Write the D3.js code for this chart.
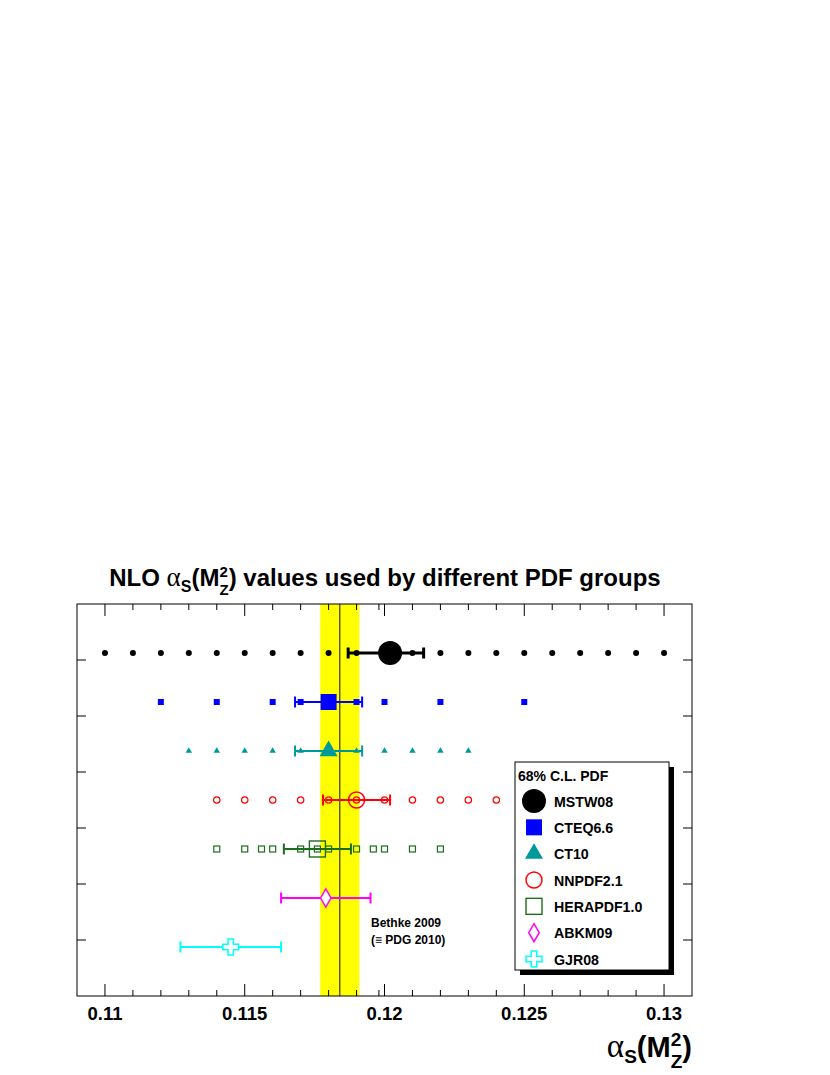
<!DOCTYPE html>
<html>
<head>
<meta charset="utf-8">
<script src="https://cdn.jsdelivr.net/npm/d3@7"></script>
<style>
  body { margin: 0; background: #fff; }
  text { font-family: "Liberation Sans", Arial, sans-serif; font-weight: bold; }
  .greek { font-family: "Liberation Serif", "DejaVu Serif", serif; font-weight: normal; }
</style>
</head>
<body>
<div id="chart"></div>
<script>

// ---------------- data ----------------
var groups   = ["MSTW08", "CTEQ6.6", "CT10", "NNPDF2.1", "HERAPDF1.0", "ABKM09", "GJR08"];
var central  = [0.1202, 0.1180, 0.1180, 0.1190, 0.1176, 0.1179, 0.1145];
var errLow   = [0.0015, 0.0012, 0.0012, 0.0012, 0.0012, 0.0016, 0.0018];
var errHigh  = [0.0012, 0.0012, 0.0012, 0.0012, 0.0012, 0.0016, 0.0018];
var rowPos   = [6.125, 5.25, 4.375, 3.5, 2.625, 1.75, 0.875];
var colors   = ["#000000", "#0000ff", "#009999", "#ff0000", "#1b6e1b", "#ff00ff", "#00ffff"];
var markers  = ["circle", "square", "triangle", "ocircle", "osquare", "diamond", "cross"];

// alpha_s values of the available PDF sets for each group
var scanMSTW  = [0.110, 0.111, 0.112, 0.113, 0.114, 0.115, 0.116, 0.117, 0.118, 0.119, 0.120,
                 0.121, 0.122, 0.123, 0.124, 0.125, 0.126, 0.127, 0.128, 0.129, 0.130];
var scanCTEQ  = [0.112, 0.114, 0.116, 0.117, 0.118, 0.119, 0.120, 0.122, 0.125];
var scanCT10  = [0.113, 0.114, 0.115, 0.116, 0.117, 0.118, 0.119, 0.120, 0.121, 0.122, 0.123];
var scanNNPDF = [0.114, 0.115, 0.116, 0.117, 0.118, 0.119, 0.120, 0.121, 0.122, 0.123, 0.124];
var scanHERA  = [0.114, 0.115, 0.1156, 0.116, 0.117, 0.1176, 0.118, 0.119, 0.1196, 0.120, 0.121, 0.122];
var scans = [scanMSTW, scanCTEQ, scanCT10, scanNNPDF, scanHERA, [], []];

// world average band (Bethke 2009)
var bethke = 0.1184, bethkeErr = 0.0007;

var xTickMajor = [0.11, 0.115, 0.12, 0.125, 0.13];
var xTickLabels = ["0.11", "0.115", "0.12", "0.125", "0.13"];
var yTicks = [1, 2, 3, 4, 5, 6];

// ---------------- layout ----------------
var width = 830, height = 1075;
var frame = { left: 77, right: 692, top: 604, bottom: 996 };

var svg = d3.select("#chart").append("svg")
  .attr("width", width)
  .attr("height", height);

var x = d3.scaleLinear().domain([0.109, 0.131]).range([frame.left, frame.right]);
var y = d3.scaleLinear().domain([0, 7]).range([frame.bottom, frame.top]);

// band + central line
svg.append("rect")
  .attr("x", x(bethke - bethkeErr))
  .attr("width", x(bethke + bethkeErr) - x(bethke - bethkeErr))
  .attr("y", frame.top)
  .attr("height", frame.bottom - frame.top)
  .attr("fill", "#ffff00");

svg.append("line")
  .attr("x1", x(bethke)).attr("x2", x(bethke))
  .attr("y1", frame.top).attr("y2", frame.bottom)
  .attr("stroke", "#333").attr("stroke-width", 1.2);

// ticks (ROOT style, on all four sides)
var minorTicks = d3.range(0.109, 0.1315, 0.001).map(function(d){ return +d.toFixed(4); });
minorTicks.push(0.1198);

function isMajor(v){
  return xTickMajor.some(function(m){ return Math.abs(m - v) < 1e-7; });
}

var tickG = svg.append("g").attr("stroke", "#000").attr("stroke-width", 1);
minorTicks.forEach(function(v){
  if (x(v) <= frame.left + 1 || x(v) >= frame.right - 1) return;
  var len = isMajor(v) ? 12 : 6;
  tickG.append("line").attr("x1", x(v)).attr("x2", x(v))
    .attr("y1", frame.bottom).attr("y2", frame.bottom - len);
  tickG.append("line").attr("x1", x(v)).attr("x2", x(v))
    .attr("y1", frame.top).attr("y2", frame.top + len);
});
yTicks.forEach(function(v){
  tickG.append("line").attr("x1", frame.left).attr("x2", frame.left + 9)
    .attr("y1", y(v)).attr("y2", y(v));
  tickG.append("line").attr("x1", frame.right).attr("x2", frame.right - 9)
    .attr("y1", y(v)).attr("y2", y(v));
});

// tick labels
svg.append("g").selectAll("text")
  .data(xTickMajor)
  .enter().append("text")
  .attr("x", function(d){ return x(d); })
  .attr("y", 1020)
  .attr("text-anchor", "middle")
  .attr("font-size", 18.5)
  .text(function(d, i){ return xTickLabels[i]; });

// frame
svg.append("rect")
  .attr("x", frame.left).attr("y", frame.top)
  .attr("width", frame.right - frame.left)
  .attr("height", frame.bottom - frame.top)
  .attr("fill", "none").attr("stroke", "#000").attr("stroke-width", 1);

// ---------------- markers ----------------
function drawMarker(g, type, cx, cy, big, color){
  var m;
  if (type === "circle") {
    m = g.append("circle").attr("r", big ? 12 : 3).attr("fill", color);
  } else if (type === "ocircle") {
    m = g.append("circle").attr("r", big ? 8 : 3.2)
      .attr("fill", "none").attr("stroke", color).attr("stroke-width", big ? 1.5 : 1.2);
  } else if (type === "square") {
    var s = big ? 16 : 6;
    m = g.append("rect").attr("x", -s/2).attr("y", -s/2).attr("width", s).attr("height", s)
      .attr("fill", color);
  } else if (type === "osquare") {
    var s2 = big ? 16 : 6;
    m = g.append("rect").attr("x", -s2/2).attr("y", -s2/2).attr("width", s2).attr("height", s2)
      .attr("fill", "none").attr("stroke", color).attr("stroke-width", big ? 1.4 : 1.2);
  } else if (type === "triangle") {
    m = g.append("path").attr("d", d3.symbol(d3.symbolTriangle, big ? 140 : 18)())
      .attr("fill", color);
  } else if (type === "diamond") {
    m = g.append("path").attr("d", d3.symbol(d3.symbolDiamond, 94)())
      .attr("fill", "#fff").attr("stroke", color).attr("stroke-width", 1.5);
  } else if (type === "cross") {
    m = g.append("path").attr("d", d3.symbol(d3.symbolCross, 142)())
      .attr("fill", "#fff").attr("stroke", color).attr("stroke-width", 1.5);
  }
  m.attr("transform", "translate(" + cx + "," + cy + ")");
  return m;
}

var plot = svg.append("g");

groups.forEach(function(name, i){
  var g = plot.append("g").attr("class", "group");
  var cy = y(rowPos[i]);
  var col = colors[i];
  var lw = i === 0 ? 3 : 2;
  var lo = x(central[i] - errLow[i]), hi = x(central[i] + errHigh[i]);

  // error bar with end caps
  g.append("line").attr("x1", lo).attr("x2", hi).attr("y1", cy).attr("y2", cy)
    .attr("stroke", col).attr("stroke-width", lw);
  [lo, hi].forEach(function(px){
    g.append("line").attr("x1", px).attr("x2", px).attr("y1", cy - 5.5).attr("y2", cy + 5.5)
      .attr("stroke", col).attr("stroke-width", lw);
  });

  // big marker for the preferred value
  drawMarker(g, markers[i], x(central[i]), cy, true, col);

  // small markers for the alpha_s scan
  scans[i].forEach(function(v){
    if (markers[i] !== "ocircle" && markers[i] !== "osquare" && Math.abs(v - central[i]) < 1e-7) return;
    drawMarker(g, markers[i], x(v), cy, false, col);
  });
});

// Bethke label
svg.append("text").attr("x", 371).attr("y", 927).attr("font-size", 12).text("Bethke 2009");
svg.append("text").attr("x", 371).attr("y", 944).attr("font-size", 12).text("(\u2261 PDG 2010)");

// ---------------- legend ----------------
var lg = { x: 515, y: 762, w: 154, h: 208, shadow: 5 };
svg.append("rect")
  .attr("x", lg.x + lg.shadow).attr("y", lg.y + lg.shadow)
  .attr("width", lg.w).attr("height", lg.h).attr("fill", "#000");
svg.append("rect")
  .attr("x", lg.x).attr("y", lg.y).attr("width", lg.w).attr("height", lg.h)
  .attr("fill", "#fff").attr("stroke", "#000").attr("stroke-width", 1);
svg.append("text").attr("x", 518).attr("y", 781).attr("font-size", 14).text("68% C.L. PDF");

var legendY = d3.scaleLinear().domain([0, 6]).range([801, 959]);
groups.forEach(function(name, i){
  var ly = legendY(i);
  drawMarker(svg.append("g"), markers[i], 534, ly, true, colors[i]);
  svg.append("text").attr("x", 554).attr("y", ly + 5.5).attr("font-size", 14.2).text(name);
});

// ---------------- title ----------------
var title = svg.append("text").attr("x", 385).attr("y", 586)
  .attr("text-anchor", "middle").attr("font-size", 24);
title.append("tspan").text("NLO ");
title.append("tspan").attr("class", "greek").attr("font-size", 27).text("\u03b1");
title.append("tspan").attr("font-size", 16).attr("dy", 6).text("S");
title.append("tspan").attr("dy", -6).text("(M");
title.append("tspan").attr("font-size", 15).attr("dy", -9).text("2");
title.append("tspan").attr("font-size", 15).attr("dx", -8.3).attr("dy", 18).text("Z");
title.append("tspan").attr("dy", -9).text(") values used by different PDF groups");

// ---------------- x axis title ----------------
var xt = svg.append("text").attr("x", 692).attr("y", 1057)
  .attr("text-anchor", "end").attr("font-size", 29);
xt.append("tspan").attr("class", "greek").attr("font-size", 33).text("\u03b1");
xt.append("tspan").attr("font-size", 19).attr("dy", 6).text("S");
xt.append("tspan").attr("dy", -6).text("(M");
xt.append("tspan").attr("font-size", 19).attr("dy", -11).text("2");
xt.append("tspan").attr("font-size", 19).attr("dx", -10.5).attr("dy", 22).text("Z");
xt.append("tspan").attr("dy", -11).text(")");

</script>
</body>
</html>
